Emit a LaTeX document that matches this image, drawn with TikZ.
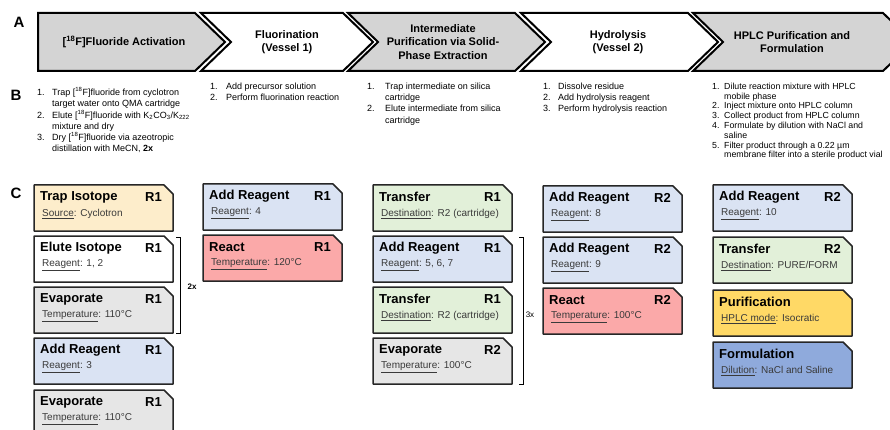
\documentclass[tikz,border=0pt]{standalone}
\usepackage{fontspec}
\setmainfont{Liberation Sans}
\definecolor{chevgray}{HTML}{D4D4D4}
\definecolor{boxedge}{HTML}{262626}
\definecolor{cyel}{HTML}{FDEDCB}
\definecolor{cgray}{HTML}{E6E6E6}
\definecolor{cblue}{HTML}{DAE3F3}
\definecolor{cred}{HTML}{FBA9A9}
\definecolor{cgreen}{HTML}{E2F0D9}
\definecolor{cgold}{HTML}{FFD966}
\definecolor{cdblue}{HTML}{8FAADC}
\definecolor{subtext}{HTML}{3A3A3A}
\tikzset{
  chev/.style={draw=black, line width=2pt, line join=miter},
  chevtext/.style={align=center, font=\fontsize{11}{13.5}\selectfont\bfseries, inner sep=0},
  boxline/.style={draw=boxedge, line width=1.5pt, line join=round},
  boxtitle/.style={anchor=west, inner sep=0, font=\fontsize{13}{15}\selectfont\bfseries},
  boxr/.style={anchor=east, inner sep=0, font=\fontsize{13}{15}\selectfont\bfseries},
  boxsub/.style={anchor=west, inner sep=0, text=subtext, font=\fontsize{10}{12}\selectfont},
  listtext/.style={anchor=north west, inner sep=0, font=\fontsize{9}{11.2}\selectfont},
  panel/.style={inner sep=0, font=\fontsize{15}{17}\selectfont\bfseries},
  bracket/.style={draw=black, line width=0.8pt},
  repeat/.style={inner sep=0, font=\fontsize{8}{10}\selectfont}
}
\newcommand\opbox[8]{%
  \draw[boxline, fill=#4] (#2,#3) -- ++(130,0) -- ++(9,9) -- ++(0,37) -- ++(-139,0) -- cycle;
  \node[boxtitle] (#1t) at (#2+6,#3+12) {#5};
  \node[boxr] (#1r) at (#2+128,#3+12) {#6};
  \node[boxsub] (#1s) at (#2+8,#3+29) {\underline{#7}: #8};
}
\newcommand\iso{[\textsuperscript{18}F]}
\begin{document}
\begin{tikzpicture}[x=1pt,y=-1pt]
\useasboundingbox (0,0) rectangle (890,430);
\clip (0,0) rectangle (890,430);

% panel letters
\node[panel] (pA) at (19,22) {A};
\node[panel] (pB) at (16,95) {B};
\node[panel] (pC) at (16,193) {C};

% row A chevrons
\draw[chev, fill=chevgray] (38,13) -- (195,13) -- (225,42) -- (195,71) -- (38,71) -- cycle;
\draw[chev, fill=white] (201,13) -- (343,13) -- (373,42) -- (343,71) -- (201,71) -- (231,42) -- cycle;
\draw[chev, fill=chevgray] (348,13) -- (515,13) -- (545,42) -- (515,71) -- (348,71) -- (378,42) -- cycle;
\draw[chev, fill=white] (521,13) -- (688,13) -- (718,42) -- (688,71) -- (521,71) -- (551,42) -- cycle;
\draw[chev, fill=chevgray] (693,13) -- (883,13) -- (913,42) -- (883,71) -- (693,71) -- (723,42) -- cycle;
\node[chevtext] (a1) at (124,42) {\iso Fluoride Activation};
\node[chevtext] (a2) at (287,42) {Fluorination\\(Vessel 1)};
\node[chevtext] (a3) at (443,42) {Intermediate\\Purification via Solid-\\Phase Extraction};
\node[chevtext] (a4) at (618,42) {Hydrolysis\\(Vessel 2)};
\node[chevtext] (a5) at (792,42) {HPLC Purification and\\Formulation};

% row B lists
\node[listtext] (b1) at (37,87.4) {\begin{tabular}[t]{@{}p{15pt}@{}l@{}}
1. & Trap \iso fluoride from cyclotron\\
   & target water onto QMA cartridge\\
2. & Elute \iso fluoride with K\textsubscript{2}CO\textsubscript{3}/K\textsubscript{222}\\
   & mixture and dry\\
3. & Dry \iso fluoride via azeotropic\\
   & distillation with MeCN, \textbf{2x}
\end{tabular}};
\node[listtext] (b2) at (210,81.4) {\begin{tabular}[t]{@{}p{16pt}@{}l@{}}
1. & Add precursor solution\\
2. & Perform fluorination reaction
\end{tabular}};
\node[listtext] (b3) at (367,81.4) {\begin{tabular}[t]{@{}p{18pt}@{}l@{}}
1. & Trap intermediate on silica\\
   & cartridge\\
2. & Elute intermediate from silica\\
   & cartridge
\end{tabular}};
\node[listtext] (b4) at (543,81.4) {\begin{tabular}[t]{@{}p{15pt}@{}l@{}}
1. & Dissolve residue\\
2. & Add hydrolysis reagent\\
3. & Perform hydrolysis reaction
\end{tabular}};
\node[listtext, font=\fontsize{8.8}{9.8}\selectfont] (b5) at (712,82.2) {\begin{tabular}[t]{@{}p{12pt}@{}l@{}}
1. & Dilute reaction mixture with HPLC\\
   & mobile phase\\
2. & Inject mixture onto HPLC column\\
3. & Collect product from HPLC column\\
4. & Formulate by dilution with NaCl and\\
   & saline\\
5. & Filter product through a 0.22 µm\\
   & membrane filter into a sterile product vial
\end{tabular}};

% row C column 1
\opbox{c11}{34}{185}{cyel}{Trap Isotope}{R1}{Source}{Cyclotron}
\opbox{c12}{34}{236}{white}{Elute Isotope}{R1}{Reagent}{1, 2}
\opbox{c13}{34}{287}{cgray}{Evaporate}{R1}{Temperature}{110°C}
\opbox{c14}{34}{338}{cblue}{Add Reagent}{R1}{Reagent}{3}
\opbox{c15}{34}{390}{cgray}{Evaporate}{R1}{Temperature}{110°C}
\draw[bracket] (176,237) -- (180,237) -- (180,333) -- (176,333);
\node[repeat, font=\fontsize{8}{10}\selectfont\bfseries] (rep2) at (192,287) {2x};

% column 2
\opbox{c21}{203}{184}{cblue}{Add Reagent}{R1}{Reagent}{4}
\opbox{c22}{203}{235}{cred}{React}{R1}{Temperature}{120°C}

% column 3
\opbox{c31}{373}{185}{cgreen}{Transfer}{R1}{Destination}{R2 (cartridge)}
\opbox{c32}{373}{236}{cblue}{Add Reagent}{R1}{Reagent}{5, 6, 7}
\opbox{c33}{373}{287}{cgreen}{Transfer}{R1}{Destination}{R2 (cartridge)}
\opbox{c34}{373}{338}{cgray}{Evaporate}{R2}{Temperature}{100°C}
\draw[bracket] (519,237) -- (523,237) -- (523,384) -- (519,384);
\node[repeat] (rep3) at (530,315) {3x};

% column 4
\opbox{c41}{543}{186}{cblue}{Add Reagent}{R2}{Reagent}{8}
\opbox{c42}{543}{237}{cblue}{Add Reagent}{R2}{Reagent}{9}
\opbox{c43}{543}{288}{cred}{React}{R2}{Temperature}{100°C}

% column 5
\opbox{c51}{713}{185}{cblue}{Add Reagent}{R2}{Reagent}{10}
\opbox{c52}{713}{237}{cgreen}{Transfer}{R2}{Destination}{PURE/FORM}
\opbox{c53}{713}{290}{cgold}{Purification}{}{HPLC mode}{Isocratic}
\opbox{c54}{713}{342}{cdblue}{Formulation}{}{Dilution}{NaCl and Saline}
\end{tikzpicture}
\end{document}
